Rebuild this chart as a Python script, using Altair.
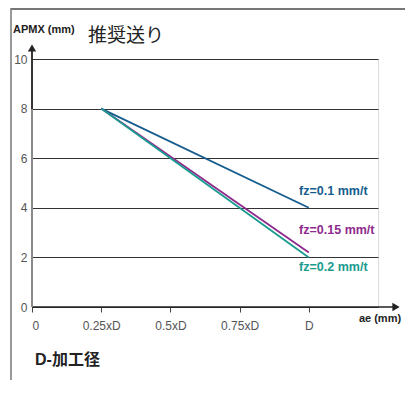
import altair as alt
import pandas as pd

# data
series = ["fz=0.1 mm/t", "fz=0.15 mm/t", "fz=0.2 mm/t"]
start_x = [0.25, 0.25, 0.25]
start_y = [8.0, 8.0, 8.0]
end_x = [1.0, 1.0, 1.0]
end_y = [4.0, 2.2, 2.0]
colors = ["#165d8e", "#8e2a8c", "#1a9b90"]
label_x = [0.965, 0.965, 0.965]
label_y = [4.68, 3.1, 1.61]
x_ticks = [0, 0.25, 0.5, 0.75, 1.0]
x_tick_labels = ["0", "0.25xD", "0.5xD", "0.75xD", "D"]
y_ticks = [0, 2, 4, 6, 8, 10]

FONT = "Liberation Sans, Arial, Noto Sans CJK JP"

rows = []
for s, x0, y0, x1, y1 in zip(series, start_x, start_y, end_x, end_y):
    rows.append({"series": s, "x": x0, "y": y0})
    rows.append({"series": s, "x": x1, "y": y1})
df = pd.DataFrame(rows)
lab = pd.DataFrame({"series": series, "x": label_x, "y": label_y})

W, H = 346, 248
xscale = alt.Scale(domain=[0, 1.25], nice=False, zero=False)
yscale = alt.Scale(domain=[0, 10], nice=False)
cscale = alt.Scale(domain=series, range=colors)

vals_js = "[" + ",".join(str(v) for v in x_ticks) + "]"
labs_js = "[" + ",".join(f"'{t}'" for t in x_tick_labels) + "]"
label_expr = f"{labs_js}[indexof({vals_js}, datum.value)]"

base = alt.Chart(df)

lines = base.mark_line(strokeWidth=1.8).encode(
    x=alt.X("x:Q", scale=xscale, axis=alt.Axis(
        values=x_ticks, title=None, grid=False, domain=False,
        tickSize=5, tickColor="#444", labelPadding=8,
        labelExpr=label_expr,
        labelFontSize=12, labelColor="#555", labelFont=FONT)),
    y=alt.Y("y:Q", scale=yscale, axis=alt.Axis(
        values=y_ticks, title=None, grid=True, gridColor="#333",
        gridWidth=1, domain=False, ticks=False, labelPadding=5,
        labelFontSize=12, labelColor="#555", labelFont=FONT)),
    color=alt.Color("series:N", scale=cscale, legend=None),
    detail="series:N",
)

labels = alt.Chart(lab).mark_text(
    align="left", baseline="middle", fontSize=12.5, fontWeight="bold", font=FONT
).encode(
    x=alt.X("x:Q", scale=xscale),
    y=alt.Y("y:Q", scale=yscale),
    color=alt.Color("series:N", scale=cscale, legend=None),
    text="series:N",
)

dec = alt.Chart(pd.DataFrame({"a": [0]}))

x_axis_line = dec.mark_rule(color="#222", strokeWidth=1.5).encode(
    x=alt.value(0), x2=alt.value(364), y=alt.value(H))
x_arrow = dec.mark_point(shape="triangle-right", filled=True, color="#222",
                         size=70, opacity=1).encode(x=alt.value(364), y=alt.value(H))
y_axis_low = dec.mark_rule(color="#8a8a8a", strokeWidth=2).encode(
    x=alt.value(0), y=alt.value(H), y2=alt.value(50))
y_axis_high = dec.mark_rule(color="#222", strokeWidth=1.8).encode(
    x=alt.value(0), y=alt.value(50), y2=alt.value(-10))
y_arrow = dec.mark_point(shape="triangle-up", filled=True, color="#222",
                         size=70, opacity=1).encode(x=alt.value(0), y=alt.value(-11))
frame_left = dec.mark_rule(color="#999", strokeWidth=2).encode(
    x=alt.value(-21), y=alt.value(-51), y2=alt.value(H + 80))
frame_top = dec.mark_rule(color="#777", strokeWidth=2).encode(
    x=alt.value(-21), x2=alt.value(W + 40), y=alt.value(-50))

t_apmx = dec.mark_text(align="left", baseline="alphabetic", fontSize=11,
                       fontWeight="bold", font=FONT, color="#222").encode(
    x=alt.value(-19), y=alt.value(-26), text=alt.value("APMX (mm)"))
t_title = dec.mark_text(align="left", baseline="alphabetic", fontSize=19,
                        font=FONT, color="#222").encode(
    x=alt.value(56), y=alt.value(-17), text=alt.value("推奨送り"))
t_ae = dec.mark_text(align="center", baseline="alphabetic", fontSize=11,
                     fontWeight="bold", font=FONT, color="#222").encode(
    x=alt.value(348), y=alt.value(H + 15), text=alt.value("ae (mm)"))
t_d = dec.mark_text(align="left", baseline="alphabetic", fontSize=16,
                    fontWeight="bold", font=FONT, color="#222").encode(
    x=alt.value(3), y=alt.value(58 + H), text=alt.value("D-加工径"))

chart = alt.layer(
    frame_left, frame_top, lines, labels, x_axis_line, x_arrow,
    y_axis_low, y_axis_high, y_arrow,
    t_apmx, t_title, t_ae, t_d
).properties(
    width=W, height=H,
    autosize=alt.AutoSizeParams(type="none"),
    padding={"left": 24, "top": 51, "right": 27, "bottom": 73},
).configure_view(stroke="#444", strokeWidth=1).configure(background="white")

chart.save("out.html", embed_options={"renderer": "svg", "actions": False})
